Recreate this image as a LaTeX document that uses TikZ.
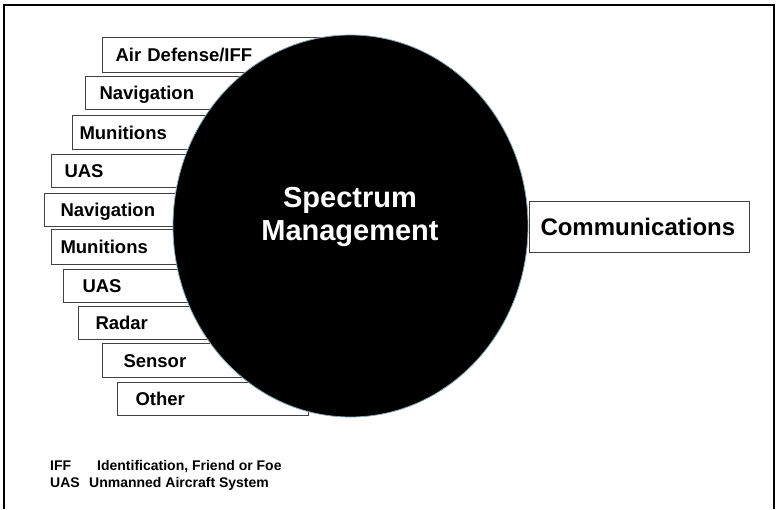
\documentclass[tikz,border=0pt]{standalone}
\usepackage{fontspec}
\setmainfont{Liberation Sans}
\usetikzlibrary{shapes.geometric}
\begin{document}
\begin{tikzpicture}[x=1pt,y=-1pt,
  catbox/.style={draw=black!75, line width=1pt, fill=white, anchor=north west,
    inner ysep=0pt, text height=13.2pt, text depth=0pt, align=left,
    font=\fontsize{18.5}{20}\selectfont\bfseries},
  legend/.style={anchor=base west, inner sep=0pt, font=\fontsize{14}{16}\selectfont\bfseries}]
\useasboundingbox (0,0) rectangle (776,509);
\draw[line width=2.5pt] (4,509) -- (4,5) -- (774,5) -- (774,509);
% category boxes: left, top, height, right, pad
\foreach \nm/\l/\t/\h/\r/\p/\txt in {
  b1/102/37/35/330/13/Air Defense{/}IFF,
  b2/85/76/33/310/14/Navigation,
  b3/72/115/34/300/7/Munitions,
  b4/51/154/33/300/13/UAS,
  b5/44/193/33/300/16/Navigation,
  b6/51/229/35/300/9/Munitions,
  b7/63/269/33/300/19/UAS,
  b8/78/306/33/300/17/Radar,
  b9/102/343/34/300/21/Sensor,
  b10/117/382/33/308/18/Other}{
  \pgfmathsetmacro{\tw}{\r-\l-2*\p}
  \node[catbox, inner xsep=\p pt, text width=\tw pt, minimum height=\h pt] (\nm) at (\l,\t) {\txt};
}
\node[catbox, inner xsep=11pt, text width=198pt, minimum height=51pt, text height=17.2pt,
  font=\fontsize{24}{26}\selectfont\bfseries] (comm) at (529,201) {Communications};
\node[ellipse, fill=black, draw=black!55!cyan!60!white, line width=0.8pt, inner sep=0pt,
  minimum width=355pt, minimum height=382pt] (sm) at (350.5,226) {};
\node[text=white, align=center, font=\fontsize{29}{33}\selectfont\bfseries, inner sep=0pt]
  (smt) at (350,216.5) {Spectrum\\Management};
\node[legend] (l1a) at (50,470) {IFF};
\node[legend] (l1b) at (97,470) {Identification, Friend or Foe};
\node[legend] (l2a) at (50,487) {UAS};
\node[legend] (l2b) at (89,487) {Unmanned Aircraft System};
\end{tikzpicture}
\end{document}
